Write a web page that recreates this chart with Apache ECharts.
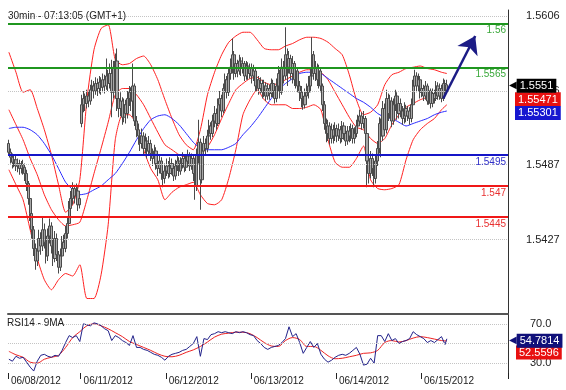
<!DOCTYPE html>
<html><head><meta charset="utf-8">
<script src="https://cdn.jsdelivr.net/npm/echarts@6/dist/echarts.min.js"></script>
<style>html,body{margin:0;padding:0;background:#fff}#c{width:566px;height:390px}</style>
</head><body><div id="c"></div>
<script>
// ---- axis structure ----
const dayLabels = ['06/08/2012','06/11/2012','06/12/2012','06/13/2012','06/14/2012','06/15/2012'];
const dayBars = [41,48,48,48,48,15];
const futureSlots = 34;
const BASE = 1.54, PIP = 0.0001;   // bar values below are pips above 1.5400

// ---- 30 min bars (pips above 1.5400) ----
const opens = [104,97,93,89,91,86,88,84,87,85,80,72,60,48,35,20,10,18,28,22,35,25,14,30,38,22,12,28,15,5,14,25,20,32,40,52,60,68,62,66,55,
120,135,140,136,142,138,147,150,146,152,148,153,149,155,150,158,152,160,145,165,170,140,132,138,125,135,128,140,145,138,150,122,115,110,104,110,100,106,98,104,96,92,98,88,84,90,80,76,
82,86,80,88,84,78,86,90,82,88,92,85,90,94,86,92,80,70,95,105,75,98,104,100,110,118,112,122,128,120,135,140,130,148,155,145,160,165,175,160,168,162,170,164,168,158,166,160,
164,158,162,150,155,148,152,145,150,142,148,144,152,146,140,150,160,145,165,158,175,165,172,160,168,155,162,150,145,140,135,142,145,150,158,175,160,165,155,162,150,135,120,112,118,108,115,110,
116,110,115,108,118,112,106,114,110,116,108,112,118,122,126,120,124,112,90,80,92,84,76,90,100,120,110,132,115,140,128,138,122,135,142,128,136,130,124,132,126,130,124,135,150,158,150,155,
145,148,142,150,138,146,136,144,140,150,142,148,140,152,146];
const closes = [97,93,89,91,86,88,84,87,85,80,72,60,48,35,20,10,18,28,22,35,25,14,30,38,22,12,28,15,5,14,25,20,32,40,52,60,68,62,66,55,60,
135,140,136,142,138,147,150,146,152,148,153,149,155,150,158,152,160,145,165,170,140,132,138,125,135,128,140,145,138,150,122,115,110,104,110,100,106,98,104,96,92,98,88,84,90,80,76,82,
86,80,88,84,78,86,90,82,88,92,85,90,94,86,92,80,70,95,105,75,98,104,100,110,118,112,122,128,120,135,140,130,148,155,145,160,165,175,160,168,162,170,164,168,158,166,160,164,
158,162,150,155,148,152,145,150,142,148,144,152,146,140,150,160,145,165,158,175,165,172,160,168,155,162,150,145,140,135,142,145,150,158,175,160,165,155,162,150,135,120,112,118,108,115,110,116,
110,115,108,118,112,106,114,110,116,108,112,118,122,126,120,124,112,90,80,92,84,76,90,100,120,110,132,115,140,128,138,122,135,142,128,136,130,124,132,126,130,124,135,150,158,150,155,145,
148,142,150,138,146,136,144,140,150,142,148,140,152,146,151];
const lows = [95,88,84,85,82,81,79,80,79,74,66,55,42,28,14,3,6,14,15,18,20,8,10,24,16,6,9,10,0,2,10,14,17,28,36,48,55,56,57,50,52,
117,129,130,132,133,135,142,140,143,142,144,143,145,144,147,146,148,125,140,155,130,125,126,119,121,120,124,134,130,125,118,109,103,98,100,95,96,92,94,90,86,88,83,78,80,75,69,72,
78,76,77,79,74,75,82,78,79,84,81,82,86,82,83,74,59,66,88,51,72,94,95,97,106,107,109,117,115,118,130,125,128,143,140,142,155,160,155,157,157,159,158,160,154,155,155,156,
152,154,146,146,143,144,140,141,138,139,139,141,141,136,137,146,140,143,152,155,150,160,155,152,150,148,145,138,133,131,132,137,140,145,150,155,154,150,148,145,130,115,105,106,103,104,104,106,
105,106,104,105,107,102,103,105,106,104,104,109,114,118,115,116,105,69,72,76,78,69,72,86,96,93,106,110,112,122,124,117,119,130,123,124,125,119,120,121,122,119,121,132,146,145,146,140,
141,138,139,135,135,132,133,136,138,139,139,137,138,143,144];
const highs = [107,100,96,95,94,92,91,90,91,88,83,74,63,50,38,24,25,35,33,45,40,28,36,44,41,26,34,32,18,20,30,31,38,46,58,66,73,71,72,69,66,
143,146,144,147,146,151,155,154,157,156,158,157,160,159,172,163,168,171,170,176,180,146,145,141,140,139,146,150,149,168,152,126,120,114,116,113,112,109,110,107,100,103,101,92,95,93,84,88,
92,90,93,92,87,91,95,93,93,97,95,95,99,97,96,94,84,100,123,108,103,110,108,115,123,121,127,134,132,140,146,143,152,160,158,165,172,188,178,174,171,175,173,173,170,170,169,168,
168,167,164,160,158,157,155,155,153,152,151,156,155,149,156,166,163,172,170,197,180,178,175,174,170,167,165,154,150,146,148,152,158,165,189,178,170,168,167,165,152,138,124,123,121,120,119,121,
119,120,118,122,121,115,118,118,120,119,117,123,127,131,129,130,126,114,94,98,96,88,95,106,125,124,138,136,147,144,143,141,140,147,145,141,140,134,137,135,134,133,140,155,163,161,160,158,
153,151,154,152,150,148,148,147,154,153,152,151,156,155,155];

// ---- indicators read every 4 bars (pips above 1.5400) ----
const BAND_STEP = 4;
const bbUpper = [177,161,145,147,132,115,95,71,49,55,75,139,179,196,199,171,167,168,172,174,167,155,139,124,111,103,99,115,143,161,175,185,190,193,193,187,180,179,179,182,184,187,189,189,188,185,180,175,159,139,127,129,135,151,159,161,164,165,166,164,163,161,160];
const bbMid = [131,119,107,92,79,63,51,43,38,39,41,59,80,100,121,143,148,148,143,135,124,113,103,99,95,93,92,95,101,111,124,136,147,152,156,157,153,151,152,155,158,161,163,163,161,155,145,135,125,117,115,108,104,108,119,127,133,136,139,141,143,145,147];
const bbLower = [83,71,59,35,12,-5,-13,-5,0,-2,7,-20,-20,-1,39,107,127,127,119,99,84,75,59,65,69,71,73,63,56,55,59,76,99,127,139,147,139,135,135,135,132,132,133,135,131,107,89,85,85,92,102,75,68,67,68,71,91,107,115,120,124,131,135];
const maBlue = [116,117,117,115,111,104,95,84,73,67,63,64,67,70,75,80,88,97,107,116,123,126,127,124,119,112,105,100,99,99,99,101,104,111,117,124,132,140,147,152,156,160,161,161,160,156,152,148,144,140,137,133,128,125,124,121,118,120,122,124,127,129,130];

// ---- RSI14 (every 2 bars) and its 9MA (every 4 bars) ----
const RSI_STEP = 2;
const rsi = [34,32,37,35,36,31,26,22,32,38,39,37,36,38,37,43,51,58,56,58,52,70,69,68,71,70,68,65,63,53,58,56,53,51,48,58,46,46,44,43,41,39,38,36,33,37,39,40,41,43,44,47,50,57,37,55,54,59,60,62,61,62,61,60,62,61,62,61,59,58,53,50,46,44,46,47,48,51,55,67,57,60,51,40,46,52,46,50,39,34,31,33,36,38,39,38,40,43,46,39,28,29,35,30,58,58,52,60,53,55,50,52,53,55,62,59,57,55,51,53,51,54,57,49,54.78];
const rsiMa = [42,38.5,36,31,30,34,36,38,46,56,62,68,70,68,65,61,57,52,49,46,43,39.5,37,36.5,38,41,43.5,47,51.5,56.5,59.5,60.5,61.5,61.5,60,56,51,47.5,47,53,56,54,47,47,43,37.5,34.5,35,36.5,38,40,40.5,43,51,53,51.5,53,55.5,57,56,54.5,53,52.56];

// ---- ticks, levels, tags ----
const priceTicks = [1.5427, 1.5487, 1.5546, 1.5606];
const rsiTicks = [30, 50, 70];
const levels = [1.56, 1.5565, 1.5495, 1.547, 1.5445];
const levelColors = ['#1f961f','#1f961f','#1515c8','#f01818','#f01818'];
const levelTextColors = ['#3aa83a','#3aa83a','#3030c8','#e83030','#e83030'];
const lastPrice = '1.5551', bbMidLast = '1.55471', maLast = '1.55301';
const rsiLast = '54.7814', rsiMaLast = '52.5596';
const arrowFrom = [245, 1.5540], arrowTo = [263, 1.5590];

// ---- build ----
const N = dayBars.reduce((a,b)=>a+b,0);
const cats = []; const dayStart = new Set();
dayLabels.forEach((d,j)=>{ dayStart.add(cats.length); for(let b=0;b<dayBars[j];b++) cats.push(d+' '+b); });
for (let f=0; f<futureSlots; f++) cats.push('future '+f);
const px = v => +(BASE + v*PIP).toFixed(5);
const ohlc = closes.map((c,i)=>[px(opens[i]), px(c), px(lows[i]), px(highs[i])]);
const sampled = (arr, step, conv) => arr.map((v,k)=>[Math.min(k*step, N-1), conv ? conv(v) : v]);
const FONT = 'Liberation Sans, Arial, sans-serif';

// value tag drawn at the right of the axis; shift moves the box down (px) to keep tags stacked
function tag(value, text, bg, shift, dist, pointer){
  const pad = shift >= 0 ? [2*shift,0,0,0] : [0,0,-2*shift,0];
  return {yAxis: +value, lineStyle:{color:'rgba(0,0,0,0)', width:1},
    label:{show:true, position:'end', distance:dist, padding:pad,
      formatter: pointer ? '{p|◀}{t|'+text+'}' : '{t|'+text+'}',
      rich:{
        t:{color:'#fff', backgroundColor:bg, padding:[2,3,1,3], fontSize:11, fontFamily:FONT, lineHeight:13},
        p:{color:bg, fontSize:10, fontFamily:'DejaVu Sans', padding:[0,0,0,0], lineHeight:13}
      }}};
}

const chart = echarts.init(document.getElementById('c'));
chart.setOption({
  animation:false,
  backgroundColor:'#fff',
  textStyle:{fontFamily:FONT},
  title:[
    {text:'30min - 07:13:05 (GMT+1)', left:8, top:11, padding:0, textStyle:{fontSize:10, fontWeight:'normal', color:'#222', fontFamily:FONT}},
    {text:'RSI14 - 9MA', left:7, top:318, padding:0, textStyle:{fontSize:10, fontWeight:'normal', color:'#222', fontFamily:FONT}}
  ],
  grid:[{left:8, right:58, top:10, height:304},{left:8, right:58, top:314, height:59}],
  xAxis:[
    {type:'category', gridIndex:0, data:cats, boundaryGap:true,
     axisLine:{show:true, lineStyle:{color:'#555', width:2}}, axisTick:{show:false}, axisLabel:{show:false}, splitLine:{show:false}},
    {type:'category', gridIndex:1, data:cats, boundaryGap:true,
     axisLine:{show:false},
     axisTick:{show:true, interval:(i)=>dayStart.has(i), length:6, lineStyle:{color:'#222'}},
     axisLabel:{show:true, interval:(i)=>dayStart.has(i), formatter:(v)=>v.split(' ')[0], align:'left', fontSize:10, color:'#222', margin:3, padding:[0,0,0,2], fontFamily:FONT},
     splitLine:{show:false}}
  ],
  yAxis:[
    {type:'value', gridIndex:0, position:'right', min:1.53676, max:1.56108, scale:true,
     axisLine:{show:true, lineStyle:{color:'#333'}}, axisTick:{show:false}, axisLabel:{show:false}, splitLine:{show:false}},
    {type:'value', gridIndex:1, position:'right', min:20, max:80,
     axisLine:{show:true, lineStyle:{color:'#333'}}, axisTick:{show:false}, axisLabel:{show:false}, splitLine:{show:false}}
  ],
  series:[
    {type:'line', name:'grid', xAxisIndex:0, yAxisIndex:0, data:[], z:1,
     markLine:{silent:true, symbol:'none', animation:false, precision:5,
       lineStyle:{type:'dotted', color:'#c4c4c4', width:1},
       label:{show:true, position:'end', distance:18, color:'#222', fontSize:11, fontFamily:FONT, formatter:(p)=>p.value.toFixed(4)},
       data: priceTicks.map(v=>({yAxis:v}))}},
    {type:'line', name:'rsigrid', xAxisIndex:1, yAxisIndex:1, data:[], z:1,
     markLine:{silent:true, symbol:'none', animation:false, precision:4,
       lineStyle:{type:'dotted', color:'#c4c4c4', width:1},
       label:{show:true, position:'end', distance:22, color:'#222', fontSize:11, fontFamily:FONT, formatter:(p)=>p.value.toFixed(1)},
       data: rsiTicks.map(v=>({yAxis:v}))}},
    {type:'line', name:'bbUpper', xAxisIndex:0, yAxisIndex:0, data:sampled(bbUpper,BAND_STEP,px), showSymbol:false, smooth:0.2, lineStyle:{color:'#ff2222', width:1}, z:2},
    {type:'line', name:'bbMid', xAxisIndex:0, yAxisIndex:0, data:sampled(bbMid,BAND_STEP,px), showSymbol:false, smooth:0.2, lineStyle:{color:'#ff2222', width:1}, z:2},
    {type:'line', name:'bbLower', xAxisIndex:0, yAxisIndex:0, data:sampled(bbLower,BAND_STEP,px), showSymbol:false, smooth:0.2, lineStyle:{color:'#ff2222', width:1}, z:2},
    {type:'line', name:'ma', xAxisIndex:0, yAxisIndex:0, data:sampled(maBlue,BAND_STEP,px), showSymbol:false, smooth:0.2, lineStyle:{color:'#2a2aff', width:1}, z:2},
    {type:'candlestick', name:'bars', xAxisIndex:0, yAxisIndex:0, data:ohlc, barWidth:2.6, z:3,
     itemStyle:{color:'#a8a8a8', color0:'#a8a8a8', borderColor:'#4a4a4a', borderColor0:'#4a4a4a', borderWidth:1}},
    {type:'line', name:'levels', xAxisIndex:0, yAxisIndex:0, data:[], z:5,
     markLine:{silent:true, symbol:'none', animation:false, precision:5,
       data: levels.map((v,j)=>({yAxis:v, lineStyle:{color:levelColors[j], width:2, type:'solid'},
         label:{show:true, position:'insideEndBottom', distance:[2,2], color:levelTextColors[j], fontSize:10, fontFamily:FONT, formatter:String(v)}}))}},
    {type:'line', name:'arrow', xAxisIndex:0, yAxisIndex:0, data:[], z:6,
     markLine:{silent:true, symbol:['none','arrow'], symbolSize:17, animation:false, precision:5,
       lineStyle:{color:'#1c1c86', width:2.5, type:'solid'}, label:{show:false},
       data:[[{coord:arrowFrom},{coord:arrowTo}]]}},
    {type:'line', name:'rsi', xAxisIndex:1, yAxisIndex:1, data:sampled(rsi,RSI_STEP), showSymbol:false, lineStyle:{color:'#22228a', width:1}, z:3},
    {type:'line', name:'rsiMa', xAxisIndex:1, yAxisIndex:1, data:sampled(rsiMa,BAND_STEP), showSymbol:false, smooth:0.3, lineStyle:{color:'#ee2222', width:1}, z:2},
    {type:'line', name:'tags', xAxisIndex:0, yAxisIndex:0, data:[], z:10,
     markLine:{silent:true, symbol:'none', animation:false, precision:5,
       data:[tag(bbMidLast, bbMidLast, '#e81010', 9.5, 7, false),
             tag(maLast, maLast, '#1616d0', 2, 7, false),
             tag(lastPrice, lastPrice, '#000', 1, 1, true)]}},
    {type:'line', name:'rsitags', xAxisIndex:1, yAxisIndex:1, data:[], z:10,
     markLine:{silent:true, symbol:'none', animation:false, precision:4,
       data:[tag(rsiMaLast, rsiMaLast, '#e81010', 11.5, 8, false),
             tag(rsiLast, rsiLast, '#10107a', 2, 1, true)]}}
  ]
});
</script></body></html>
